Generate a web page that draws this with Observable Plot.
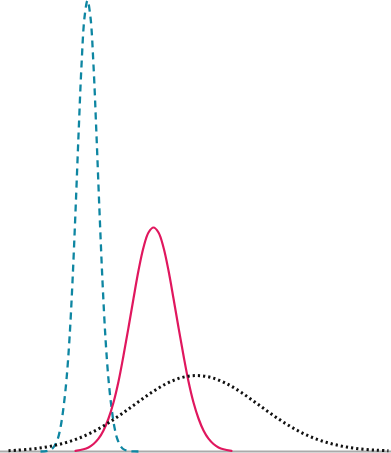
<!DOCTYPE html>
<html>
<head>
<meta charset="utf-8">
<script src="https://cdn.jsdelivr.net/npm/d3@7"></script>
<script src="https://cdn.jsdelivr.net/npm/@observablehq/plot@0.6"></script>
<style>
  html, body { margin: 0; padding: 0; background: #fff; }
  #chart svg { display: block; }
</style>
</head>
<body>
<div id="chart"></div>
<script>
// Narrow (teal, dashed) distribution
const tealX = [40,47,52,57,60,63,66,69,72,75,78,81,84,87,90,93,96,99,102,105,108,111,114,117,122,127,134,140];
const tealY = [0,0.7,3,12,24,44,72,113,170,240,316,386,434,451,434,386,316,240,170,113,72,44,24,12,3,0.7,0.1,0];

// Medium (pink, solid) distribution
const pinkX = [75,83,88,93,98,103,108,113,118,123,128,133,138,143,148,153,158,163,168,173,178,183,188,193,198,203,208,213,218,223,231];
const pinkY = [0.7,2.2,4.1,7.5,12.8,21,33,49,70,96,124,153,181,204,219,224,219,204,181,153,124,96,70,49,33,21,12.8,7.5,4.1,2.2,0.7];

// Wide (black, dotted) distribution
const blackX = [8,16,31,46,61,76,91,106,121,136,151,166,181,196,211,226,241,256,271,286,301,316,331,346,361,376,388];
const blackY = [0.8,1.3,2.5,4.5,7.7,12.4,18.9,27.4,37.4,48.3,58.9,67.9,73.9,76,73.9,67.9,58.9,48.3,37.4,27.4,18.9,12.4,7.7,4.5,2.5,1.3,0.7];

const toRows = (xs, ys) => xs.map((x, i) => ({x, y: ys[i]}));
const teal = toRows(tealX, tealY);
const pink = toRows(pinkX, pinkY);
const black = toRows(blackX, blackY);

const chart = Plot.plot({
  width: 391,
  height: 453,
  marginTop: 0,
  marginRight: 0,
  marginLeft: 0,
  marginBottom: 2,
  x: {domain: [0, 391], axis: null},
  y: {domain: [0, 451], axis: null},
  marks: [
    Plot.ruleY([0], {stroke: "#aaaaaa", strokeWidth: 2}),
    Plot.line(teal, {x: "x", y: "y", stroke: "#0e86a2", strokeWidth: 2.3, strokeDasharray: "7,5", strokeLinecap: "butt", curve: "catmull-rom"}),
    Plot.line(pink, {x: "x", y: "y", stroke: "#e0175e", strokeWidth: 2.2, curve: "catmull-rom"}),
    Plot.line(black, {x: "x", y: "y", stroke: "#111111", strokeWidth: 3, strokeDasharray: "2.2,3", strokeLinecap: "butt", curve: "catmull-rom"})
  ]
});
document.getElementById("chart").appendChild(chart);
</script>
</body>
</html>
